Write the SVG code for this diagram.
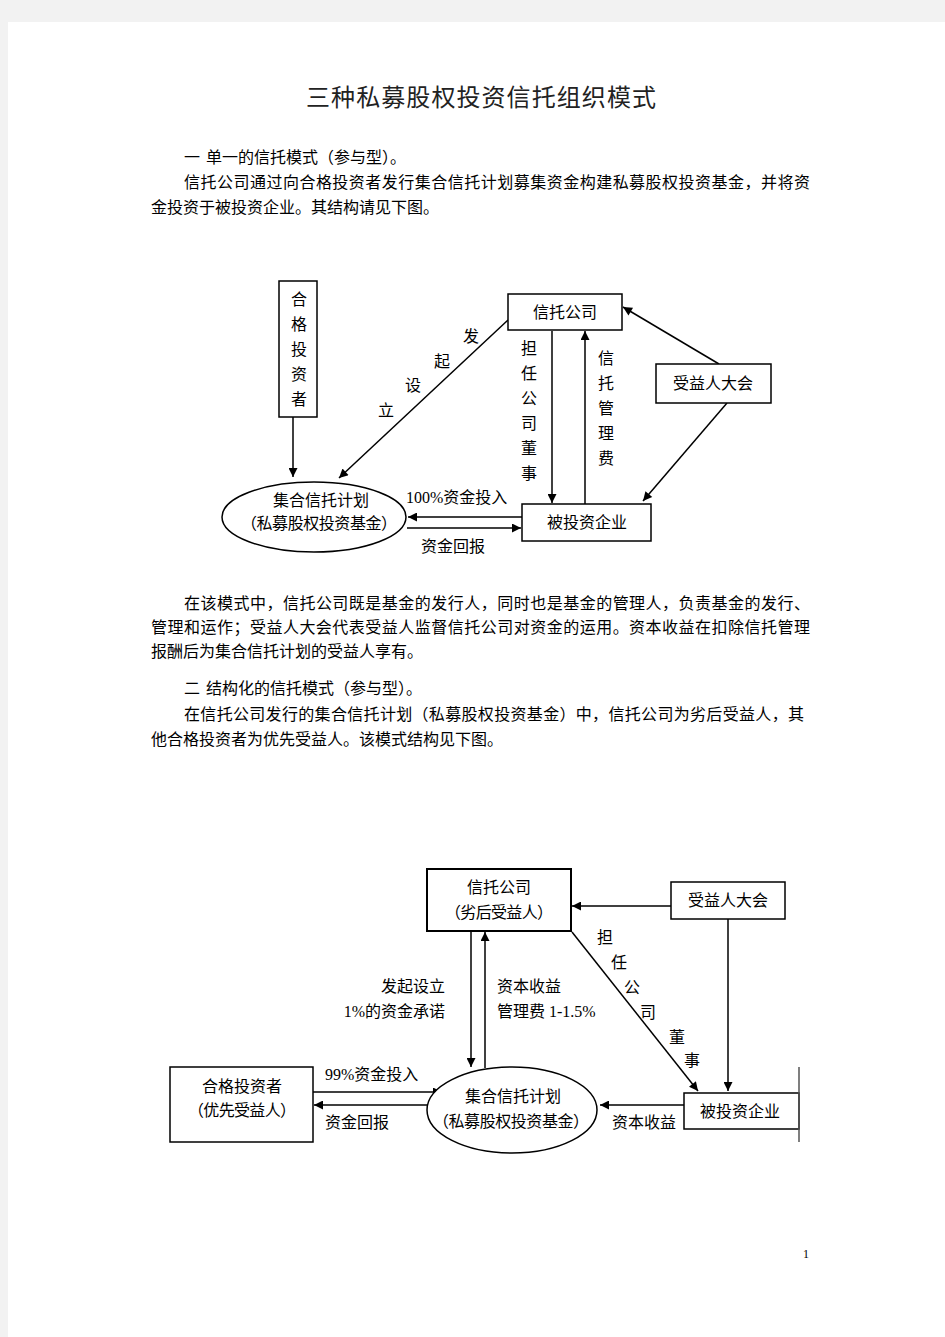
<svg xmlns="http://www.w3.org/2000/svg" width="945" height="1337" viewBox="0 0 945 1337">
<style>
text{font-family:"Liberation Serif","Noto Sans CJK SC",serif;font-size:16px;fill:#000}
.title{font-size:24px;fill:#222}
.m{text-anchor:middle}
.e{text-anchor:end}
.box{fill:#fff;stroke:#000;stroke-width:1.5}
.box2{fill:#fff;stroke:#000;stroke-width:2}
.ell{fill:#fff;stroke:#000;stroke-width:1.5}
.c{stroke:#000;stroke-width:1.5;fill:none;marker-end:url(#ah)}
.pn{font-size:12px}
</style>
<defs>
<marker id="ah" viewBox="0 0 10 10" refX="10" refY="5" markerWidth="11" markerHeight="9" markerUnits="userSpaceOnUse" orient="auto"><path d="M0,0 L10,5 L0,10 z" fill="#000"/></marker>
</defs>
<rect x="0" y="0" width="945" height="1337" fill="#f2f2f2"/>
<rect x="8" y="22" width="937" height="1315" fill="#fff"/>

<g id="page-text">
<text class="title m" x="481" y="106" textLength="350" lengthAdjust="spacing">三种私募股权投资信托组织模式</text>
<text x="184" y="163">一<tspan dx="6">单一的信托模式（参与型）。</tspan></text>
<text x="184" y="188" textLength="626" lengthAdjust="spacing">信托公司通过向合格投资者发行集合信托计划募集资金构建私募股权投资基金，并将资</text>
<text x="151" y="213">金投资于被投资企业。其结构请见下图。</text>
<text x="184" y="609" textLength="626" lengthAdjust="spacing">在该模式中，信托公司既是基金的发行人，同时也是基金的管理人，负责基金的发行、</text>
<text x="151" y="633" textLength="659" lengthAdjust="spacing">管理和运作；受益人大会代表受益人监督信托公司对资金的运用。资本收益在扣除信托管理</text>
<text x="151" y="657">报酬后为集合信托计划的受益人享有。</text>
<text x="184" y="694">二<tspan dx="6">结构化的信托模式（参与型）。</tspan></text>
<text x="184" y="720" textLength="620" lengthAdjust="spacing">在信托公司发行的集合信托计划（私募股权投资基金）中，信托公司为劣后受益人，其</text>
<text x="151" y="745">他合格投资者为优先受益人。该模式结构见下图。</text>
<text class="pn" x="803" y="1258">1</text>
</g>

<!-- Diagram 1 -->
<g id="d1-connectors">
<line class="c" x1="293" y1="417" x2="293" y2="477"/>
<line class="c" x1="508" y1="320" x2="339" y2="478"/>
<line class="c" x1="552" y1="331" x2="552" y2="503"/>
<line class="c" x1="585" y1="504" x2="585" y2="331"/>
<line class="c" x1="719" y1="364" x2="623" y2="307"/>
<line class="c" x1="727" y1="403" x2="643" y2="501"/>
<line class="c" x1="522" y1="517" x2="408" y2="517"/>
<line class="c" x1="407" y1="528" x2="521" y2="528"/>
<text x="471" y="342" class="m">发</text>
<text x="442" y="367" class="m">起</text>
<text x="413" y="391" class="m">设</text>
<text x="386" y="416" class="m">立</text>
<text x="529" y="354" class="m">担</text>
<text x="529" y="379" class="m">任</text>
<text x="529" y="404" class="m">公</text>
<text x="529" y="429" class="m">司</text>
<text x="529" y="454" class="m">董</text>
<text x="529" y="479" class="m">事</text>
<text x="606" y="364" class="m">信</text>
<text x="606" y="389" class="m">托</text>
<text x="606" y="414" class="m">管</text>
<text x="606" y="439" class="m">理</text>
<text x="606" y="464" class="m">费</text>
<text x="406" y="503">100%资金投入</text>
<text x="421" y="552">资金回报</text>
</g>
<g id="d1-investor">
<rect class="box" x="279" y="281" width="38" height="136"/>
<text class="m" x="299" y="305">合</text>
<text class="m" x="299" y="330">格</text>
<text class="m" x="299" y="355">投</text>
<text class="m" x="299" y="380">资</text>
<text class="m" x="299" y="405">者</text>
</g>
<g id="d1-plan">
<ellipse class="ell" cx="314" cy="517" rx="92" ry="35"/>
<text class="m" x="321" y="506">集合信托计划</text>
<text class="m" x="319" y="529" textLength="156" lengthAdjust="spacing">（私募股权投资基金）</text>
</g>
<g id="d1-trust">
<rect class="box" x="508" y="294" width="114" height="36"/>
<text class="m" x="565" y="318">信托公司</text>
</g>
<g id="d1-company">
<rect class="box" x="522" y="504" width="129" height="37"/>
<text class="m" x="587" y="528">被投资企业</text>
</g>
<g id="d1-assembly">
<rect class="box" x="656" y="364" width="115" height="39"/>
<text class="m" x="713" y="389">受益人大会</text>
</g>

<!-- Diagram 2 -->
<g id="d2-connectors">
<line class="c" x1="671" y1="906" x2="572" y2="906"/>
<line class="c" x1="728" y1="919" x2="728" y2="1091"/>
<line class="c" x1="684" y1="1105" x2="600" y2="1105"/>
<line class="c" x1="572" y1="932" x2="698" y2="1091"/>
<line class="c" x1="471" y1="931" x2="471" y2="1067"/>
<line class="c" x1="485" y1="1068" x2="485" y2="932"/>
<line class="c" x1="313" y1="1092" x2="442" y2="1092"/>
<line class="c" x1="428" y1="1105" x2="314" y2="1105"/>
<text class="e" x="445" y="992">发起设立</text>
<text class="e" x="445" y="1017">1%的资金承诺</text>
<text x="497" y="992">资本收益</text>
<text x="497" y="1017">管理费 1-1.5%</text>
<text class="m" x="605" y="943">担</text>
<text class="m" x="619" y="968">任</text>
<text class="m" x="632" y="993">公</text>
<text class="m" x="648" y="1018">司</text>
<text class="m" x="677" y="1043">董</text>
<text class="m" x="692" y="1066">事</text>
<text x="325" y="1080">99%资金投入</text>
<text x="325" y="1128">资金回报</text>
<text x="612" y="1128">资本收益</text>
</g>
<g id="d2-trust">
<rect class="box2" x="427" y="869" width="144" height="62"/>
<text class="m" x="499" y="893">信托公司</text>
<text class="m" x="499" y="918" textLength="108" lengthAdjust="spacing">（劣后受益人）</text>
</g>
<g id="d2-assembly">
<rect class="box" x="671" y="882" width="114" height="37"/>
<text class="m" x="728" y="906">受益人大会</text>
</g>
<g id="d2-company">
<rect class="box" x="684" y="1093" width="115" height="36"/>
<line x1="799" y1="1067" x2="799" y2="1142" stroke="#555" stroke-width="1.5"/>
<text class="m" x="740" y="1117">被投资企业</text>
</g>
<g id="d2-plan">
<ellipse class="ell" cx="512" cy="1110" rx="85" ry="43"/>
<text class="m" x="513" y="1102">集合信托计划</text>
<text class="m" x="511" y="1127" textLength="156" lengthAdjust="spacing">（私募股权投资基金）</text>
</g>
<g id="d2-investor">
<rect class="box" x="170" y="1067" width="143" height="75"/>
<text class="m" x="242" y="1092">合格投资者</text>
<text class="m" x="242" y="1116" textLength="108" lengthAdjust="spacing">（优先受益人）</text>
</g>
</svg>
